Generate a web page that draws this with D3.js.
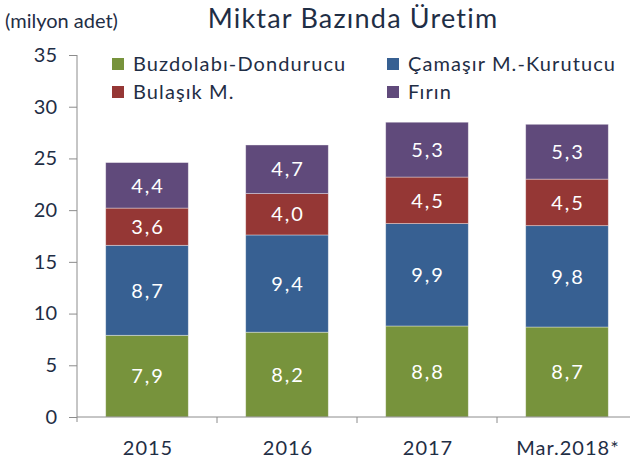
<!DOCTYPE html>
<html>
<head>
<meta charset="utf-8">
<script src="https://cdn.jsdelivr.net/npm/d3@7"></script>
<style>
  html, body { margin: 0; padding: 0; background: #fff; }
  svg { display: block; font-family: "Lato", "Open Sans", sans-serif; }
</style>
</head>
<body>
<svg id="chart" width="634" height="468"></svg>
<script>
// Production by category (million units)
const categories = ["2015", "2016", "2017", "Mar.2018*"];
const seriesNames = ["Buzdolabı-Dondurucu", "Çamaşır M.-Kurutucu", "Bulaşık M.", "Fırın"];
const buzdolabi = [7.9, 8.2, 8.8, 8.7];
const camasir = [8.7, 9.4, 9.9, 9.8];
const bulasik = [3.6, 4.0, 4.5, 4.5];
const firin = [4.4, 4.7, 5.3, 5.3];
const yTicks = [0, 5, 10, 15, 20, 25, 30, 35];
const colors = ["#77933C", "#376092", "#953735", "#604A7B"];

const seriesValues = [buzdolabi, camasir, bulasik, firin];
const rows = categories.map((c, i) => {
  const r = { cat: c };
  seriesNames.forEach((s, j) => r[s] = seriesValues[j][i]);
  return r;
});

const svg = d3.select("#chart");
const textColor = "#1F2E45";
const axisColor = "#8C8C8C";

const x = d3.scaleBand().domain(categories).range([77, 637]).paddingInner(0.41).paddingOuter(0.205);
const y = d3.scaleLinear().domain([0, 35]).range([417, 55]);

const stack = d3.stack().keys(seriesNames);
const layers = stack(rows);

// stacked bars
const g = svg.append("g");
layers.forEach((layer, li) => {
  g.selectAll(null).data(layer).enter().append("rect")
    .attr("x", d => x(d.data.cat))
    .attr("y", d => y(d[1]))
    .attr("width", x.bandwidth())
    .attr("height", d => y(d[0]) - y(d[1]))
    .attr("fill", colors[li])
    .attr("stroke", "rgba(255,255,255,0.45)")
    .attr("stroke-width", 0.8);
  g.selectAll(null).data(layer).enter().append("text")
    .attr("x", d => x(d.data.cat) + x.bandwidth() / 2 + 1)
    .attr("y", d => (y(d[0]) + y(d[1])) / 2)
    .attr("dy", "0.36em")
    .attr("text-anchor", "middle")
    .attr("fill", "#fff")
    .attr("font-size", 20)
    .attr("letter-spacing", 2)
    .text(d => d3.format(".1f")(d[1] - d[0]).replace(".", ","));
});

// y axis
const yAxis = d3.axisLeft(y).tickValues(yTicks).tickSize(8).tickPadding(12);
const ya = svg.append("g").attr("transform", "translate(77,0)").call(yAxis);
ya.select(".domain").attr("stroke", axisColor).attr("d", "M0,55V422");
ya.selectAll(".tick line").attr("stroke", axisColor);
ya.selectAll(".tick text").attr("fill", textColor).attr("font-size", 20).attr("font-family", "Lato, sans-serif");

// x axis
const xa = svg.append("g").attr("transform", "translate(0,417)");
xa.append("line").attr("x1", 77).attr("x2", 630).attr("y1", 0).attr("y2", 0).attr("stroke", axisColor);
categories.slice(1).forEach(c => {
  const px = x(c) - (x.step() - x.bandwidth()) / 2;
  xa.append("line").attr("x1", px).attr("x2", px).attr("y1", 0).attr("y2", 6).attr("stroke", axisColor);
});
xa.selectAll(null).data(categories).enter().append("text")
  .attr("x", d => x(d) + x.bandwidth() / 2 + 1)
  .attr("y", 38)
  .attr("text-anchor", "middle")
  .attr("fill", textColor)
  .attr("font-size", 20)
  .attr("letter-spacing", 1)
  .text(d => d);

// title and unit
svg.append("text").attr("x", 353).attr("y", 28).attr("text-anchor", "middle")
  .attr("fill", textColor).attr("font-size", 27).attr("letter-spacing", 1.2)
  .text("Miktar Bazında Üretim");
svg.append("text").attr("x", 5).attr("y", 28)
  .attr("fill", textColor).attr("font-size", 20).text("(milyon adet)");

// legend
const legendPos = [[112, 64], [387, 64], [112, 92], [387, 92]];
seriesNames.forEach((s, i) => {
  const [lx, ly] = legendPos[i];
  svg.append("rect").attr("x", lx).attr("y", ly - 6).attr("width", 12).attr("height", 12).attr("fill", colors[i]);
  svg.append("text").attr("x", lx + 21).attr("y", ly).attr("dy", "0.36em")
    .attr("fill", textColor).attr("font-size", 20).attr("letter-spacing", 1.1).text(s);
});
</script>
</body>
</html>
